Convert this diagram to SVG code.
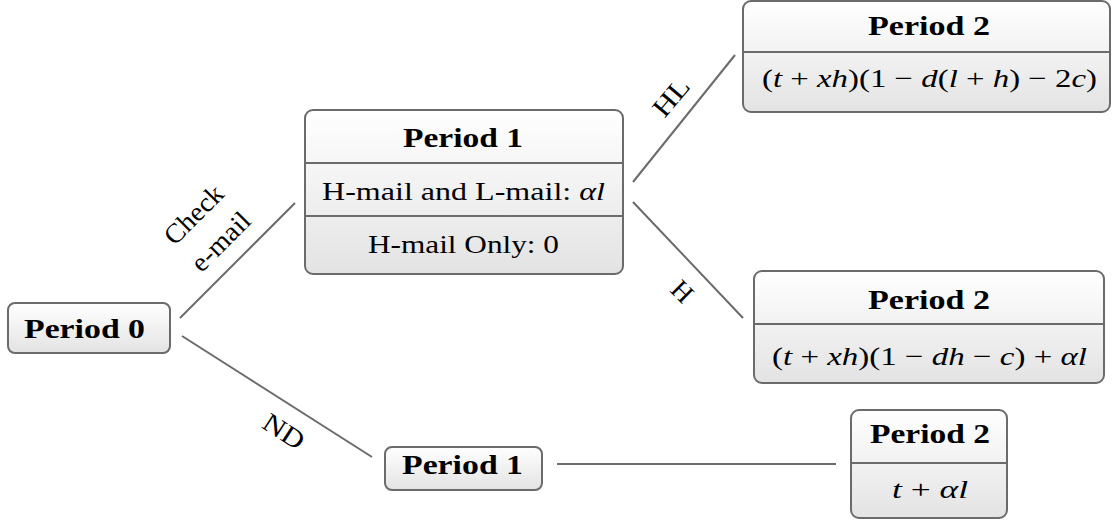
<svg xmlns="http://www.w3.org/2000/svg" width="1113" height="523" viewBox="0 0 1113 523">
<defs>
<linearGradient id="g" x1="0" y1="0" x2="0" y2="1">
<stop offset="0" stop-color="#ffffff"/>
<stop offset="1" stop-color="#e3e3e3"/>
</linearGradient>
<style>
.box{fill:url(#g);stroke:#6b6b6b;stroke-width:2}
.div{stroke:#6b6b6b;stroke-width:2}
.con line{stroke:#6b6b6b;stroke-width:2}
text{font-family:"Liberation Serif","Times New Roman",serif;fill:#000;text-anchor:middle}
.t{font-weight:bold;font-size:28px}
.n{font-size:26px}
.l{font-size:27px}
.i{font-style:italic}
</style>
</defs>
<g id="connectors" class="con">
<line x1="180" y1="318" x2="295" y2="203"/>
<line x1="182" y1="336" x2="372" y2="457"/>
<line x1="633" y1="182" x2="735" y2="55"/>
<line x1="633" y1="202" x2="743" y2="318"/>
<line x1="557" y1="464" x2="836" y2="464"/>
</g>
<g id="labels">
<text class="l" transform="translate(200,221) rotate(-45)" textLength="72" lengthAdjust="spacingAndGlyphs">Check</text>
<text class="l" transform="translate(227,248) rotate(-45)" textLength="72" lengthAdjust="spacingAndGlyphs">e-mail</text>
<text class="l" transform="translate(678,103) rotate(-50)" textLength="42" lengthAdjust="spacingAndGlyphs">HL</text>
<text class="l" transform="translate(676,298) rotate(45)">H</text>
<text class="l" transform="translate(279,439) rotate(33)" textLength="44" lengthAdjust="spacingAndGlyphs">ND</text>
</g>
<g id="period0">
<rect class="box" x="8" y="303" width="162" height="50" rx="7"/>
<text class="t" x="84.5" y="338" textLength="121" lengthAdjust="spacingAndGlyphs">Period 0</text>
</g>
<g id="period1-upper">
<rect class="box" x="305" y="110" width="318" height="164" rx="8"/>
<line class="div" x1="305" y1="163" x2="623" y2="163"/>
<line class="div" x1="305" y1="216" x2="623" y2="216"/>
<text class="t" x="463" y="147" textLength="120" lengthAdjust="spacingAndGlyphs">Period 1</text>
<text class="n" x="463.5" y="200" textLength="283" lengthAdjust="spacingAndGlyphs">H-mail and L-mail: <tspan class="i">αl</tspan></text>
<text class="n" x="463.5" y="253" textLength="191" lengthAdjust="spacingAndGlyphs">H-mail Only: 0</text>
</g>
<g id="period2-top">
<rect class="box" x="743" y="1" width="367" height="111" rx="8"/>
<line class="div" x1="743" y1="52" x2="1110" y2="52"/>
<text class="t" x="929" y="35" textLength="122" lengthAdjust="spacingAndGlyphs">Period 2</text>
<text class="n" x="929.5" y="87" textLength="335" lengthAdjust="spacingAndGlyphs">(<tspan class="i">t</tspan> + <tspan class="i">xh</tspan>)(1 − <tspan class="i">d</tspan>(<tspan class="i">l</tspan> + <tspan class="i">h</tspan>) − 2<tspan class="i">c</tspan>)</text>
</g>
<g id="period2-middle">
<rect class="box" x="754" y="271" width="350" height="112" rx="8"/>
<line class="div" x1="754" y1="324" x2="1104" y2="324"/>
<text class="t" x="929" y="309" textLength="122" lengthAdjust="spacingAndGlyphs">Period 2</text>
<text class="n" x="929.5" y="365" textLength="315" lengthAdjust="spacingAndGlyphs">(<tspan class="i">t</tspan> + <tspan class="i">xh</tspan>)(1 − <tspan class="i">dh</tspan> − <tspan class="i">c</tspan>) + <tspan class="i">αl</tspan></text>
</g>
<g id="period1-lower">
<rect class="box" x="385" y="447" width="157" height="43" rx="7"/>
<text class="t" x="462.5" y="474" textLength="121" lengthAdjust="spacingAndGlyphs">Period 1</text>
</g>
<g id="period2-bottom">
<rect class="box" x="851" y="410" width="156" height="108" rx="8"/>
<line class="div" x1="851" y1="463" x2="1007" y2="463"/>
<text class="t" x="930" y="443" textLength="120" lengthAdjust="spacingAndGlyphs">Period 2</text>
<text class="n" x="930" y="498" textLength="76" lengthAdjust="spacingAndGlyphs"><tspan class="i">t</tspan> + <tspan class="i">αl</tspan></text>
</g>
</svg>
